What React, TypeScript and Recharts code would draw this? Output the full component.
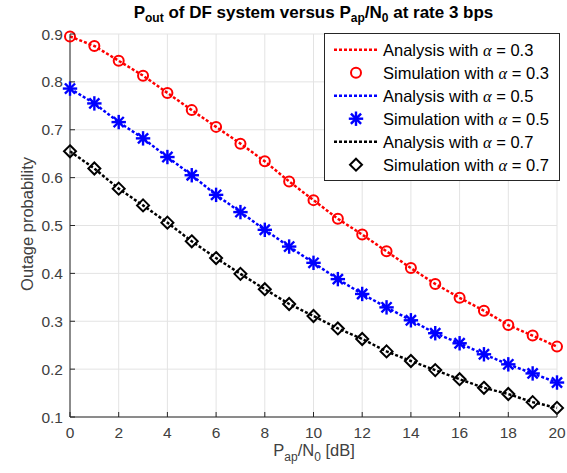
import React from 'react';
import { LineChart, Line, XAxis, YAxis, CartesianGrid } from 'recharts';

const snrDb = [0, 1, 2, 3, 4, 5, 6, 7, 8, 9, 10, 11, 12, 13, 14, 15, 16, 17, 18, 19, 20];

const analysisA03 = [0.895, 0.875, 0.844, 0.813, 0.777, 0.741, 0.706, 0.671, 0.634, 0.592, 0.553, 0.514, 0.481, 0.446, 0.411, 0.378, 0.349, 0.322, 0.292, 0.270, 0.247];
const simulationA03 = [0.895, 0.875, 0.844, 0.813, 0.777, 0.741, 0.706, 0.671, 0.634, 0.592, 0.553, 0.514, 0.481, 0.446, 0.411, 0.378, 0.349, 0.322, 0.292, 0.270, 0.247];
const analysisA05 = [0.786, 0.755, 0.716, 0.682, 0.643, 0.605, 0.564, 0.528, 0.491, 0.456, 0.422, 0.388, 0.357, 0.329, 0.302, 0.275, 0.254, 0.231, 0.210, 0.191, 0.172];
const simulationA05 = [0.786, 0.755, 0.716, 0.682, 0.643, 0.605, 0.564, 0.528, 0.491, 0.456, 0.422, 0.388, 0.357, 0.329, 0.302, 0.275, 0.254, 0.231, 0.210, 0.191, 0.172];
const analysisA07 = [0.655, 0.619, 0.577, 0.542, 0.506, 0.467, 0.432, 0.399, 0.367, 0.336, 0.311, 0.285, 0.263, 0.237, 0.217, 0.198, 0.179, 0.161, 0.148, 0.131, 0.119];
const simulationA07 = [0.655, 0.619, 0.577, 0.542, 0.506, 0.467, 0.432, 0.399, 0.367, 0.336, 0.311, 0.285, 0.263, 0.237, 0.217, 0.198, 0.179, 0.161, 0.148, 0.131, 0.119];

const xTicks = [0, 2, 4, 6, 8, 10, 12, 14, 16, 18, 20];
const yTicks = [0.1, 0.2, 0.3, 0.4, 0.5, 0.6, 0.7, 0.8, 0.9];

const legendItems = [
  { kind: 'line', color: '#ff0000', label: 'Analysis with ', value: '0.3' },
  { kind: 'circle', color: '#ff0000', label: 'Simulation with ', value: '0.3' },
  { kind: 'line', color: '#0000ff', label: 'Analysis with ', value: '0.5' },
  { kind: 'star', color: '#0000ff', label: 'Simulation with ', value: '0.5' },
  { kind: 'line', color: '#000000', label: 'Analysis with ', value: '0.7' },
  { kind: 'diamond', color: '#000000', label: 'Simulation with ', value: '0.7' },
];

const data = snrDb.map((x, i) => ({
  x,
  a03: analysisA03[i],
  s03: simulationA03[i],
  a05: analysisA05[i],
  s05: simulationA05[i],
  a07: analysisA07[i],
  s07: simulationA07[i],
}));

const FONT = '"Liberation Sans", Arial, Helvetica, sans-serif';
const AX = '#262626';
const TICK_TXT = '#404040';
const DASH = '3 2';

function marker(kind: string, cx: number, cy: number, color: string, key?: any) {
  if (kind === 'circle') {
    return <circle key={key} cx={cx} cy={cy} r={5} fill="none" stroke={color} strokeWidth={2} />;
  }
  if (kind === 'star') {
    const r = 6;
    const d = r * 0.707;
    return (
      <g key={key} stroke={color} strokeWidth={2.4} strokeLinecap="square">
        <line x1={cx - r} y1={cy} x2={cx + r} y2={cy} />
        <line x1={cx} y1={cy - r} x2={cx} y2={cy + r} />
        <line x1={cx - d} y1={cy - d} x2={cx + d} y2={cy + d} />
        <line x1={cx - d} y1={cy + d} x2={cx + d} y2={cy - d} />
      </g>
    );
  }
  const r = 6;
  return (
    <polygon
      key={key}
      points={`${cx},${cy - r} ${cx + r},${cy} ${cx},${cy + r} ${cx - r},${cy}`}
      fill="none"
      stroke={color}
      strokeWidth={2}
    />
  );
}

const makeDot = (kind: string, color: string) => (props: any) => {
  const { cx, cy, index } = props;
  if (cx == null || cy == null) return <g key={`e-${index}`} />;
  return marker(kind, cx, cy, color, `${kind}-${index}`);
};

const BottomTick = (props: any) => {
  const { x, y, payload } = props;
  return (
    <g>
      <line x1={x} y1={y} x2={x} y2={y - 5} stroke={AX} strokeWidth={1} />
      <text x={x} y={y + 21} textAnchor="middle" fontSize={15.5} fontFamily={FONT} fill={TICK_TXT}>
        {payload.value}
      </text>
    </g>
  );
};

const LeftTick = (props: any) => {
  const { x, y, payload } = props;
  return (
    <g>
      <line x1={x} y1={y} x2={x + 5} y2={y} stroke={AX} strokeWidth={1} />
      <text x={x - 7} y={y + 5.5} textAnchor="end" fontSize={15.5} fontFamily={FONT} fill={TICK_TXT}>
        {Number(payload.value).toFixed(1)}
      </text>
    </g>
  );
};

const RightTick = (props: any) => {
  const { x, y } = props;
  return <line x1={x} y1={y} x2={x - 5} y2={y} stroke={AX} strokeWidth={1} />;
};

const TopTick = (props: any) => {
  const { x, y } = props;
  return <line x1={x} y1={y} x2={x} y2={y + 5} stroke={AX} strokeWidth={1} />;
};

export default function App() {
  const legendLeft = 324;
  const legendTop = 33;
  const legendW = 235;
  const legendH = 147;
  return (
    <div style={{ position: 'absolute', left: 0, top: 0, width: 567, height: 473, background: '#fff' }}>
      <LineChart width={567} height={473} data={data} margin={{ top: 34, right: 10, bottom: 0, left: 10 }}>
        <CartesianGrid stroke="#e3e3e3" strokeWidth={1} />
        <XAxis
          dataKey="x"
          type="number"
          domain={[0, 20]}
          ticks={xTicks}
          height={56}
          tickSize={0}
          tickMargin={0}
          tickLine={false}
          axisLine={{ stroke: AX }}
          tick={<BottomTick />}
          interval={0}
        />
        <XAxis
          xAxisId="top"
          orientation="top"
          dataKey="x"
          type="number"
          domain={[0, 20]}
          ticks={xTicks}
          height={0}
          tickSize={0}
          tickMargin={0}
          tickLine={false}
          axisLine={{ stroke: AX }}
          tick={<TopTick />}
          interval={0}
        />
        <YAxis
          type="number"
          domain={[0.1, 0.9]}
          ticks={yTicks}
          width={60}
          tickSize={0}
          tickMargin={0}
          tickLine={false}
          axisLine={{ stroke: AX }}
          tick={<LeftTick />}
          interval={0}
        />
        <YAxis
          yAxisId="right"
          orientation="right"
          type="number"
          domain={[0.1, 0.9]}
          ticks={yTicks}
          width={0}
          tickSize={0}
          tickMargin={0}
          tickLine={false}
          axisLine={{ stroke: AX }}
          tick={<RightTick />}
          interval={0}
        />
        <Line dataKey="a03" type="linear" stroke="#ff0000" strokeWidth={2.5} strokeDasharray={DASH} dot={false} activeDot={false} isAnimationActive={false} />
        <Line dataKey="s03" type="linear" stroke="none" dot={makeDot('circle', '#ff0000')} activeDot={false} isAnimationActive={false} />
        <Line dataKey="a05" type="linear" stroke="#0000ff" strokeWidth={2.5} strokeDasharray={DASH} dot={false} activeDot={false} isAnimationActive={false} />
        <Line dataKey="s05" type="linear" stroke="none" dot={makeDot('star', '#0000ff')} activeDot={false} isAnimationActive={false} />
        <Line dataKey="a07" type="linear" stroke="#000000" strokeWidth={2.5} strokeDasharray={DASH} dot={false} activeDot={false} isAnimationActive={false} />
        <Line dataKey="s07" type="linear" stroke="none" dot={makeDot('diamond', '#000000')} activeDot={false} isAnimationActive={false} />
      </LineChart>
      <svg width={567} height={473} style={{ position: 'absolute', left: 0, top: 0, pointerEvents: 'none' }}>
        <text x={313.5} y={18} textAnchor="middle" fontSize={17} fontWeight="bold" fontFamily={FONT} fill="#000">
          P<tspan fontSize={12} dy={4}>out</tspan>
          <tspan dy={-4}> of DF system versus P</tspan>
          <tspan fontSize={12} dy={4}>ap</tspan>
          <tspan dy={-4}>/N</tspan>
          <tspan fontSize={12} dy={4}>0</tspan>
          <tspan dy={-4}> at rate 3 bps</tspan>
        </text>
        <text x={314} y={456} textAnchor="middle" fontSize={16.5} fontFamily={FONT} fill={TICK_TXT}>
          P<tspan fontSize={12} dy={5}>ap</tspan>
          <tspan dy={-5}>/N</tspan>
          <tspan fontSize={12} dy={5}>0</tspan>
          <tspan dy={-5}> [dB]</tspan>
        </text>
        <text x={33} y={224} textAnchor="middle" fontSize={16.5} fontFamily={FONT} fill={TICK_TXT} transform="rotate(-90 33 224)">
          Outage probability
        </text>
        <rect x={legendLeft + 0.5} y={legendTop + 0.5} width={legendW} height={legendH} fill="#fff" stroke={AX} strokeWidth={1} />
        {legendItems.map((it, i) => {
          const cy = 49.7 + i * 23;
          return (
            <g key={i}>
              {it.kind === 'line' ? (
                <line x1={334} y1={cy} x2={378} y2={cy} stroke={it.color} strokeWidth={2.5} strokeDasharray={DASH} />
              ) : (
                marker(it.kind, 356, cy, it.color)
              )}
              <text x={383} y={cy + 6} fontSize={16.5} fontFamily={FONT} fill="#000">
                {it.label}
                <tspan fontFamily='"Liberation Serif", serif' fontStyle="italic">α</tspan>
                {' = ' + it.value}
              </text>
            </g>
          );
        })}
      </svg>
    </div>
  );
}
